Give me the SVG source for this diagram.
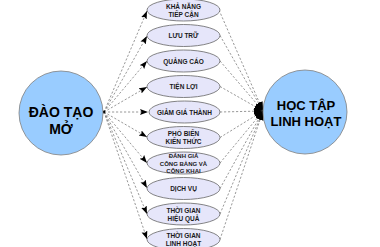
<svg xmlns="http://www.w3.org/2000/svg" width="380" height="247" viewBox="0 0 380 247">
<defs>
<style>
.big{fill:#99CCFF;stroke:#7f7f7f;stroke-width:0.8}
.el{fill:#E6E6FA;stroke:#666;stroke-width:0.8}
.bt{font-family:"Liberation Sans",Arial,sans-serif;font-weight:bold;fill:#000;text-anchor:middle}
.st{font-family:"Liberation Sans",Arial,sans-serif;font-weight:bold;font-size:6.5px;fill:#1a1a1a;text-anchor:middle}
.st3{font-size:6px}
.cn{fill:none;stroke:#777;stroke-width:0.75;stroke-dasharray:2.2,1.8}
.in{marker-end:url(#ah);marker-start:url(#dot)}
.out{marker-end:url(#ah2)}
</style>
<marker id="ah" markerUnits="userSpaceOnUse" markerWidth="9" markerHeight="7" refX="8" refY="3" orient="auto"><path d="M0,0 L8,3 L0,6 L1.5,3 z" fill="#000"/></marker>
<marker id="ah2" markerUnits="userSpaceOnUse" markerWidth="10" markerHeight="8" refX="9" refY="3.5" orient="auto"><path d="M0,0 L9,3.5 L0,7 z" fill="#000"/></marker>
<marker id="dot" markerUnits="userSpaceOnUse" markerWidth="3" markerHeight="3" refX="1.5" refY="1.5" orient="auto"><circle cx="1.5" cy="1.5" r="1.1" fill="#000"/></marker>
</defs>
<g id="connectors">
<path class="cn in" d="M104,112 L147,11"/>
<path class="cn in" d="M104,112 L147,36"/>
<path class="cn in" d="M104,112 L147,61"/>
<path class="cn in" d="M104,112 L147,87"/>
<path class="cn in" d="M104,112 L148,112"/>
<path class="cn in" d="M104,112 L147,137"/>
<path class="cn in" d="M104,112 L147,163"/>
<path class="cn in" d="M104,112 L147,188"/>
<path class="cn in" d="M104,112 L147,214"/>
<path class="cn in" d="M104,112 L147,239"/>
<path class="cn out" d="M219,10 L263,111"/>
<path class="cn out" d="M220,35.5 L263,111"/>
<path class="cn out" d="M220,61 L263,111"/>
<path class="cn out" d="M220,86.5 L263,111"/>
<path class="cn out" d="M220,112 L263,111"/>
<path class="cn out" d="M220,137.5 L263,111"/>
<path class="cn out" d="M220,163 L263,111"/>
<path class="cn out" d="M220,188.5 L263,111"/>
<path class="cn out" d="M220,214 L263,111"/>
<path class="cn out" d="M220,239.5 L263,111"/>
</g>
<g id="dao-tao-mo">
<circle class="big" cx="61" cy="113" r="42"/>
<text class="bt" font-size="14" x="61" y="117">ĐÀO TẠO</text>
<text class="bt" font-size="14" x="61" y="134">MỞ</text>
</g>
<g id="hoc-tap-linh-hoat">
<circle class="big" cx="305" cy="112" r="42"/>
<text class="bt" font-size="13" x="306" y="110">HỌC TẬP</text>
<text class="bt" font-size="13" x="306" y="126">LINH HOẠT</text>
</g>
<g id="kha-nang-tiep-can">
<ellipse class="el" cx="183.5" cy="10" rx="36.5" ry="11"/>
<text class="st" x="183.5" y="8.5">KHẢ NĂNG</text>
<text class="st" x="183.5" y="16.5">TIẾP CẬN</text>
</g>
<g id="luu-tru">
<ellipse class="el" cx="183.5" cy="35.5" rx="36.5" ry="11"/>
<text class="st" x="183.5" y="38">LƯU TRỮ</text>
</g>
<g id="quang-cao">
<ellipse class="el" cx="183.5" cy="61" rx="36.5" ry="11"/>
<text class="st" x="183.5" y="63.5">QUẢNG CÁO</text>
</g>
<g id="tien-loi">
<ellipse class="el" cx="183.5" cy="86.5" rx="36.5" ry="11"/>
<text class="st" x="183.5" y="89">TIỆN LỢI</text>
</g>
<g id="giam-gia-thanh">
<ellipse class="el" cx="184.5" cy="112" rx="35.5" ry="11"/>
<text class="st" x="184.5" y="114.5">GIẢM GIÁ THÀNH</text>
</g>
<g id="pho-bien-kien-thuc">
<ellipse class="el" cx="183.5" cy="137.5" rx="36.5" ry="11"/>
<text class="st" x="183.5" y="136">PHỔ BIẾN</text>
<text class="st" x="183.5" y="144">KIẾN THỨC</text>
</g>
<g id="danh-gia">
<ellipse class="el" cx="183.5" cy="163" rx="36.5" ry="11"/>
<text class="st st3" x="183.5" y="157.5">ĐÁNH GIÁ</text>
<text class="st st3" x="183.5" y="165.5">CÔNG BẰNG VÀ</text>
<text class="st st3" x="183.5" y="173">CÔNG KHAI</text>
</g>
<g id="dich-vu">
<ellipse class="el" cx="183.5" cy="188.5" rx="36.5" ry="11"/>
<text class="st" x="183.5" y="191">DỊCH VỤ</text>
</g>
<g id="thoi-gian-hieu-qua">
<ellipse class="el" cx="183.5" cy="214" rx="36.5" ry="11"/>
<text class="st" x="183.5" y="212.5">THỜI GIAN</text>
<text class="st" x="183.5" y="220.5">HIỆU QUẢ</text>
</g>
<g id="thoi-gian-linh-hoat">
<ellipse class="el" cx="183.5" cy="239.5" rx="36.5" ry="11"/>
<text class="st" x="183.5" y="238">THỜI GIAN</text>
<text class="st" x="183.5" y="246">LINH HOẠT</text>
</g>
</svg>
